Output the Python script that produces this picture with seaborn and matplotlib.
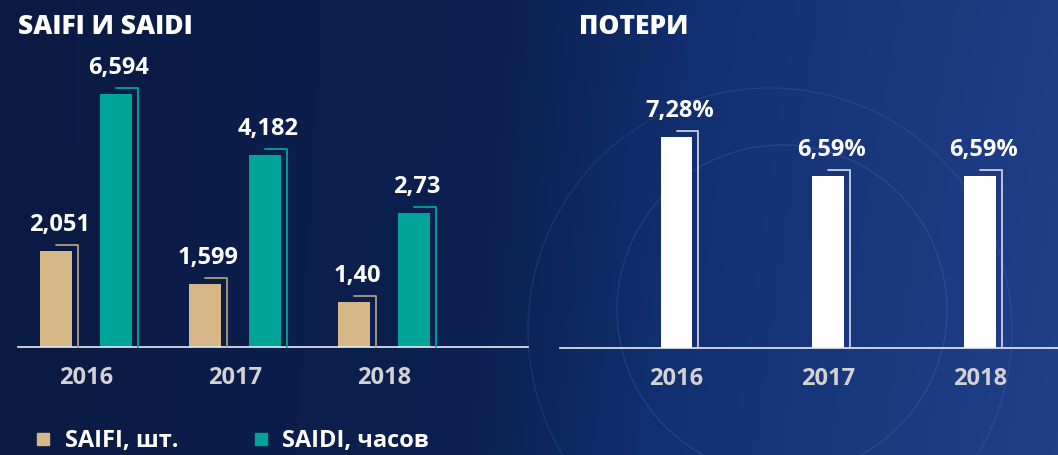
import numpy as np
import pandas as pd
import seaborn as sns
import matplotlib.pyplot as plt
from matplotlib.patches import Circle
from matplotlib.lines import Line2D
from matplotlib.colors import LinearSegmentedColormap
from matplotlib.ticker import NullLocator

# Data
years = ['2016', '2017', '2018']
saifi = [2.051, 1.599, 1.40]
saidi = [6.594, 4.182, 2.73]
saifi_labels = ['2,051', '1,599', '1,40']
saidi_labels = ['6,594', '4,182', '2,73']
losses = [7.28, 6.59, 6.59]
loss_labels = ['7,28%', '6,59%', '6,59%']
series_names = ['SAIFI, шт.', 'SAIDI, часов']

TAN = '#d6b888'
TEAL = '#00a597'
W, H = 1058, 455

sns.set_theme(style='white')
plt.rcParams['font.family'] = ['Open Sans', 'DejaVu Sans']

df = pd.DataFrame({
    'year': years * 2,
    'value': saifi + saidi,
    'series': [series_names[0]] * 3 + [series_names[1]] * 3,
})

fig = plt.figure(figsize=(W / 100, H / 100), dpi=100)

# background: navy gradient with faint circles
bg = fig.add_axes([0, 0, 1, 1])
cmap = LinearSegmentedColormap.from_list('bg', [(0, '#0a1a42'), (0.45, '#0c2152'),
                                                (0.62, '#123070'), (1, '#22408a')])
gx = np.linspace(0, 1, 400)
gy = np.linspace(0, 1, 200)
grad = gx[None, :] * (0.92 + 0.08 * gy[:, None])
bg.imshow(grad, cmap=cmap, extent=[0, W, H, 0], aspect='auto', vmin=0, vmax=1)
bg.add_patch(Circle((782, 310), 165, fill=False, ec='#7d9ee0', lw=1, alpha=0.16))
bg.add_patch(Circle((770, 330), 242, fill=False, ec='#7d9ee0', lw=1, alpha=0.13))
bg.set_xlim(0, W)
bg.set_ylim(H, 0)
bg.axis('off')


def px_axes(x0, x1, ybase, ytop):
    return fig.add_axes([x0 / W, (H - ybase) / H, (x1 - x0) / W, (ybase - ytop) / H])


def style_axes(ax):
    ax.set_facecolor('none')
    for s in ['left', 'right', 'top']:
        ax.spines[s].set_visible(False)
    ax.spines['bottom'].set_color('#e8ecf4')
    ax.spines['bottom'].set_linewidth(1.2)
    ax.yaxis.set_major_locator(NullLocator())
    ax.yaxis.set_minor_locator(NullLocator())
    ax.set_xlabel('')
    ax.set_ylabel('')
    ax.tick_params(axis='x', length=0, pad=14, labelsize=17, labelcolor='#d2d2d2')
    for t in ax.get_xticklabels():
        t.set_fontweight('bold')


def brackets_and_labels(ax, labels, colors, fmt_offset=3):
    bars = sorted(ax.patches, key=lambda p: p.get_x())
    base = ax.transData.transform((0, ax.get_ylim()[0]))[1]
    for p, lbl, col in zip(bars, labels, colors):
        cx = p.get_x() + p.get_width() / 2
        right = p.get_x() + p.get_width()
        top = p.get_height()
        (dcx, dtop), (dright, _) = ax.transData.transform([(cx, top), (right, top)])
        xs = np.array([dcx, dright + 6, dright + 6]) / W
        ys = np.array([dtop + 6, dtop + 6, base]) / H
        fig.add_artist(Line2D(xs, ys, transform=fig.transFigure, color=col, lw=1.3))
        ax.annotate(lbl, xy=(cx, top), xytext=(fmt_offset, 20), textcoords='offset pixels',
                    ha='center', va='baseline', color='white', fontsize=17,
                    fontweight='bold', annotation_clip=False)


# left panel: SAIFI and SAIDI
axL = px_axes(18, 528, 347, 40)
sns.barplot(data=df, x='year', y='value', hue='series', palette=[TAN, TEAL],
            width=0.8, gap=0.46, saturation=1, linewidth=0, legend=False, ax=axL)
axL.set_yscale('log')
axL.set_ylim(1, np.exp(307 / 133.9))
axL.set_xlim(-0.456, 2.966)
style_axes(axL)

# right panel: losses
axR = px_axes(560, 1058, 348, 40)
sns.barplot(x=years, y=losses, color='white', width=0.21, saturation=1, linewidth=0, ax=axR)
axR.set_ylim(3.55, 9.0)
axR.set_xlim(-0.768, 2.514)
style_axes(axR)

left_labels = [v for pair in zip(saifi_labels, saidi_labels) for v in pair]
left_cols = ['#b39d78', '#00a597'] * 3
brackets_and_labels(axL, left_labels, left_cols)
brackets_and_labels(axR, loss_labels, ['#c9d0de'] * 3)

# titles
fig.text(18 / W, 1 - 27 / H, 'SAIFI И SAIDI', va='center', ha='left', fontsize=19,
         fontweight='heavy', color='white')
fig.text(579 / W, 1 - 27 / H, 'ПОТЕРИ', va='center', ha='left', fontsize=19,
         fontweight='heavy', color='white')

# legend
handles = [Line2D([], [], marker='s', ls='', ms=8, color=c) for c in [TAN, TEAL]]
fig.legend(handles, series_names, loc='center left', bbox_to_anchor=(34 / W, 1 - 441 / H),
           ncol=2, frameon=False, labelcolor='white', handlelength=0.8,
           handletextpad=0.5, columnspacing=3.1, borderaxespad=0, borderpad=0,
           prop={'weight': 'bold', 'size': 17})

fig.savefig('out.png', dpi=100)
